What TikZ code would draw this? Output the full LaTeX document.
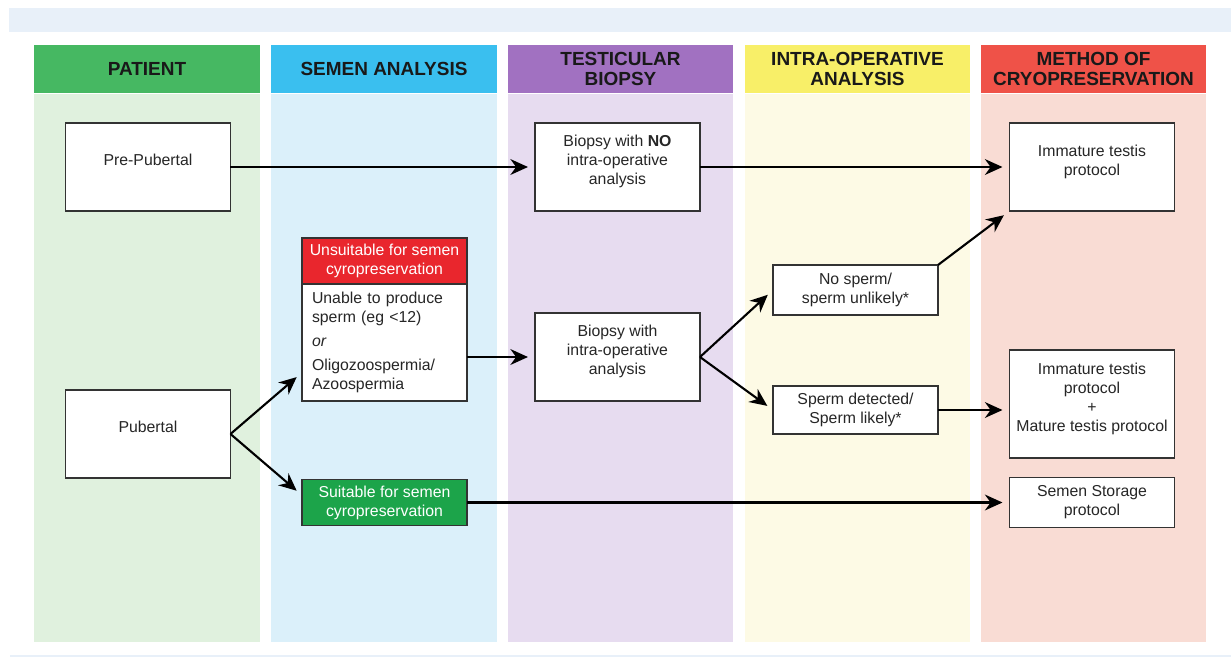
\documentclass[tikz,border=0pt]{standalone}
\usepackage{fontspec}
\setmainfont{Liberation Sans}
\usetikzlibrary{positioning,arrows.meta}
\definecolor{patgreen}{RGB}{70,184,98}
\definecolor{patbg}{RGB}{224,241,222}
\definecolor{semblue}{RGB}{58,191,239}
\definecolor{sembg}{RGB}{219,240,250}
\definecolor{biopurple}{RGB}{161,113,193}
\definecolor{biobg}{RGB}{231,220,240}
\definecolor{opyellow}{RGB}{248,239,104}
\definecolor{opbg}{RGB}{253,250,229}
\definecolor{cryored}{RGB}{239,82,72}
\definecolor{cryobg}{RGB}{249,220,212}
\definecolor{unsred}{RGB}{233,38,45}
\definecolor{sutgreen}{RGB}{28,164,74}
\definecolor{bandblue}{RGB}{232,240,249}

\begin{document}
\begin{tikzpicture}[x=0.02cm,y=-0.02cm,
  colhead/.style={minimum width=4.52cm,minimum height=0.96cm,inner sep=0pt,align=center,
    font=\bfseries\fontsize{10.8}{11.3}\selectfont,text=black!90},
  colbody/.style={minimum width=4.52cm,minimum height=10.96cm,inner sep=0pt},
  sbox/.style={draw=black!80,fill=white,line width=0.9pt,align=center,inner sep=0pt,
    outer sep=0pt,minimum width=3.3cm,minimum height=1cm,text=black!85,
    font=\fontsize{9}{10.8}\selectfont},
  box/.style={sbox,minimum height=1.76cm,text depth=8pt},
  arr/.style={-{Stealth[length=10pt,width=9pt]},line width=1.2pt,shorten >=4pt}]

  \useasboundingbox (0,0) rectangle (1231,657);
  \fill[bandblue] (9,8) rectangle (1231,32);
  \fill[bandblue] (10,655) rectangle (1231,657);

  % columns
  \node[colhead,fill=patgreen] (hpat) at (147,69) {PATIENT};
  \node[colbody,fill=patbg,below=0pt of hpat] (bpat) {};
  \node[colhead,fill=semblue] (hsem) at (384,69) {SEMEN ANALYSIS};
  \node[colbody,fill=sembg,below=0pt of hsem] (bsem) {};
  \node[colhead,fill=biopurple] (hbio) at (620.5,69) {TESTICULAR\\BIOPSY};
  \node[colbody,fill=biobg,below=0pt of hbio] (bbio) {};
  \node[colhead,fill=opyellow] (hop) at (857.5,69) {INTRA-OPERATIVE\\ANALYSIS};
  \node[colbody,fill=opbg,below=0pt of hop] (bop) {};
  \node[colhead,fill=cryored] (hcryo) at (1093.5,69) {METHOD OF\\CRYOPRESERVATION};
  \node[colbody,fill=cryobg,below=0pt of hcryo] (bcryo) {};

  % boxes
  \node[box] (pre) at (148,167) {Pre-Pubertal};
  \node[box] (pub) at (148,434) {Pubertal};
  \node[sbox,fill=unsred,text=white,minimum height=0.92cm] (unsh) at (384.5,261)
    {Unsuitable for semen\\cyropreservation};
  \node[sbox,below=0pt of unsh,minimum height=2.34cm,text width=2.9cm,align=left] (unsb)
    {Unable to produce\\sperm (eg <12)\\[3pt]\textit{or}\\[3pt]Oligozoospermia/\\Azoospermia};
  \node[sbox,fill=sutgreen,text=white,minimum height=0.92cm] (sut) at (384.5,502.5)
    {Suitable for semen\\cyropreservation};
  \node[box] (bno) at (617.5,167) {Biopsy with \textbf{NO}\\intra-operative\\analysis};
  \node[box] (bint) at (617.5,357) {Biopsy with\\intra-operative\\analysis};
  \node[sbox] (nsp) at (855.5,290) {No sperm/\\sperm unlikely*};
  \node[sbox,minimum height=0.96cm] (sdt) at (855.5,410) {Sperm detected/\\Sperm likely*};
  \node[box] (imm1) at (1092,167) {Immature testis\\protocol};
  \node[box,minimum height=2.16cm] (imm2) at (1092,404)
    {Immature testis\\protocol\\+\\Mature testis protocol};
  \node[sbox] (sto) at (1092,502.5) {Semen Storage\\protocol};

  % arrows
  \draw[arr] (pre) -- (bno);
  \draw[arr] (bno) -- (imm1);
  \draw[arr] (pub.east) -- (unsb.200);
  \draw[arr] (pub.east) -- (sut.175);
  \draw[arr] (unsb.east |- bint) -- (bint);
  \draw[arr] (bint.east) -- (nsp.west);
  \draw[arr] (bint.east) -- (sdt.west);
  \draw[arr] (nsp.north east) -- (imm1.south west);
  \draw[arr] (sdt) -- (sdt -| imm2.west);
  \draw[arr] (sut) -- (sto);
\end{tikzpicture}
\end{document}
